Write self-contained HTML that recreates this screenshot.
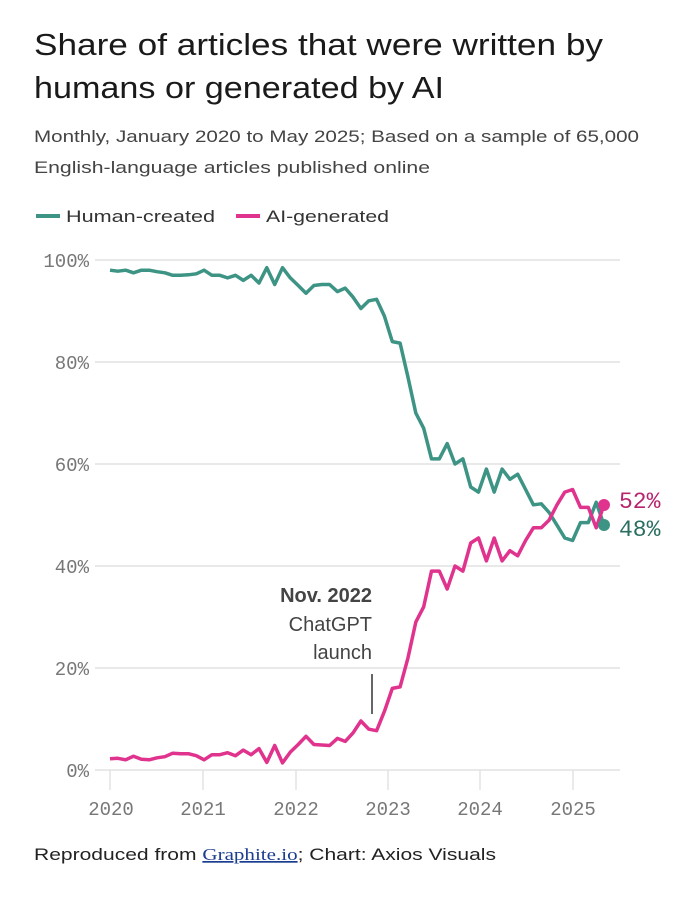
<!DOCTYPE html>
<html><head><meta charset="utf-8"><style>
body{margin:0;background:#fff;}
svg text{font-family:"Liberation Sans",sans-serif;}
svg .mono, svg .mono text{font-family:"Liberation Mono",monospace;}
</style></head><body>
<svg width="700" height="899" viewBox="0 0 700 899" xmlns="http://www.w3.org/2000/svg">
<text x="34" y="55" font-size="31" fill="#1a1a1a" textLength="569" lengthAdjust="spacingAndGlyphs">Share of articles that were written by</text>
<text x="34" y="98" font-size="31" fill="#1a1a1a" textLength="410" lengthAdjust="spacingAndGlyphs">humans or generated by AI</text>
<text x="34" y="142" font-size="17" fill="#444" textLength="605" lengthAdjust="spacingAndGlyphs">Monthly, January 2020 to May 2025; Based on a sample of 65,000</text>
<text x="34" y="173" font-size="17" fill="#444" textLength="396" lengthAdjust="spacingAndGlyphs">English-language articles published online</text>
<line x1="36" y1="216" x2="60" y2="216" stroke="#3d9484" stroke-width="4"/>
<text x="66" y="222" font-size="17" fill="#333" textLength="149" lengthAdjust="spacingAndGlyphs">Human-created</text>
<line x1="236" y1="216" x2="260" y2="216" stroke="#e0338e" stroke-width="4"/>
<text x="266" y="222" font-size="17" fill="#333" textLength="123" lengthAdjust="spacingAndGlyphs">AI-generated</text>
<g stroke="#e2e2e2" stroke-width="1.5">
<line x1="95" y1="260" x2="620" y2="260"/><line x1="95" y1="362" x2="620" y2="362"/>
<line x1="95" y1="464" x2="620" y2="464"/><line x1="95" y1="566" x2="620" y2="566"/>
<line x1="95" y1="668" x2="620" y2="668"/><line x1="95" y1="770" x2="620" y2="770"/>
<line x1="110" y1="770" x2="110" y2="790"/><line x1="203" y1="770" x2="203" y2="790"/>
<line x1="296" y1="770" x2="296" y2="790"/><line x1="388" y1="770" x2="388" y2="790"/>
<line x1="480" y1="770" x2="480" y2="790"/><line x1="573" y1="770" x2="573" y2="790"/>
</g>
<g class="mono" font-size="19" fill="#777" text-anchor="end">
<text x="89" y="267">100%</text><text x="89" y="369">80%</text><text x="89" y="471">60%</text>
<text x="89" y="573">40%</text><text x="89" y="675">20%</text><text x="89" y="777">0%</text>
</g>
<g class="mono" font-size="19" fill="#777" text-anchor="middle">
<text x="111" y="815">2020</text><text x="203" y="815">2021</text><text x="296" y="815">2022</text>
<text x="388" y="815">2023</text><text x="480" y="815">2024</text><text x="573" y="815">2025</text>
</g>
<text x="372" y="602" font-size="20" font-weight="bold" fill="#444" text-anchor="end">Nov. 2022</text>
<text x="372" y="631" font-size="20" fill="#444" text-anchor="end">ChatGPT</text>
<text x="372" y="659" font-size="20" fill="#444" text-anchor="end">launch</text>
<line x1="372" y1="674" x2="372" y2="714" stroke="#333" stroke-width="1.5"/>
<polyline id="h" fill="none" stroke="#3d9484" stroke-width="3.5" stroke-linejoin="round"/>
<polyline id="a" fill="none" stroke="#e0338e" stroke-width="3.5" stroke-linejoin="round"/>
<circle cx="604" cy="525" r="6" fill="#3d9484"/>
<circle cx="604" cy="505" r="6" fill="#e0338e"/>
<text class="mono" x="619" y="508" font-size="23" fill="#b8236f">52%</text>
<text class="mono" x="619" y="536" font-size="23" fill="#2a6e60">48%</text>
<text x="34" y="860" font-size="17" fill="#222" textLength="462" lengthAdjust="spacingAndGlyphs">Reproduced from <tspan font-family="Liberation Serif" fill="#1a3d8f" text-decoration="underline">Graphite.io</tspan>; Chart: Axios Visuals</text>
</svg>
<script>
var H=[98,97.8,98,97.5,98,98,97.7,97.5,97,97,97.1,97.3,98,97,97,96.5,97,96,97,95.5,98.5,95.2,98.5,96.5,95,93.5,95,95.2,95.2,93.8,94.5,92.7,90.5,92,92.3,89,84,83.7,77,70,67,61,61,64,60,61,55.5,54.5,59,54.5,59,57,58,55,52,52.2,50.5,48,45.5,45,48.5,48.5,52.5,48];
var A=[2.2,2.3,2.0,2.7,2.1,2.0,2.4,2.6,3.3,3.2,3.2,2.8,2.0,3.0,3.0,3.4,2.8,3.9,3.0,4.2,1.5,4.8,1.4,3.5,5.0,6.6,5.0,4.9,4.8,6.2,5.6,7.3,9.6,8.0,7.7,11.5,16,16.3,22,29,32,39,39,35.5,40,39,44.5,45.5,41,45.5,41,43,42,45,47.5,47.5,49,52,54.5,55,51.5,51.5,47.5,52];
function pts(d){var s=d.length;return d.map(function(v,i){return (110+i*(494/(s-1))).toFixed(1)+","+(770-5.1*v).toFixed(1)}).join(" ");}
document.getElementById("h").setAttribute("points",pts(H));
document.getElementById("a").setAttribute("points",pts(A));
</script>
</body></html>
